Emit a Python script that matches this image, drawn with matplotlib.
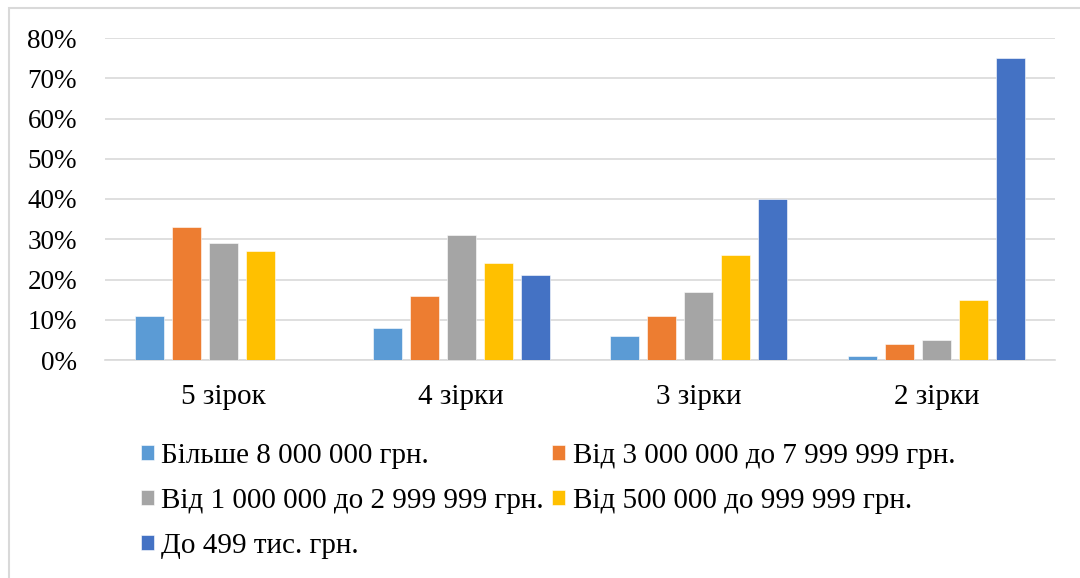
import matplotlib
matplotlib.use("Agg")
import matplotlib.pyplot as plt
import numpy as np
from matplotlib.patches import Rectangle
from matplotlib.ticker import PercentFormatter

plt.rcParams['font.family'] = ['Liberation Serif', 'DejaVu Serif']

categories = ["5 зірок", "4 зірки", "3 зірки", "2 зірки"]
series_names = [
    "Більше 8 000 000 грн.",
    "Від 3 000 000 до 7 999 999 грн.",
    "Від 1 000 000 до 2 999 999 грн.",
    "Від 500 000 до 999 999 грн.",
    "До 499 тис. грн.",
]
more_8m = [0.11, 0.08, 0.06, 0.01]
from_3m_to_8m = [0.33, 0.16, 0.11, 0.04]
from_1m_to_3m = [0.29, 0.31, 0.17, 0.05]
from_500k_to_1m = [0.27, 0.24, 0.26, 0.15]
under_499k = [np.nan, 0.21, 0.40, 0.75]
series_values = [more_8m, from_3m_to_8m, from_1m_to_3m, from_500k_to_1m, under_499k]
colors = ["#5B9BD5", "#ED7D31", "#A5A5A5", "#FFC000", "#4472C4"]
y_ticks = [0, 0.1, 0.2, 0.3, 0.4, 0.5, 0.6, 0.7, 0.8]

fig = plt.figure(figsize=(10.8, 5.78), dpi=100)
ax = fig.add_axes([105 / 1080, 1 - 360 / 578, 950 / 1080, 322 / 578])

x = np.arange(len(categories))
step = 0.156
width = 0.122
handles = []
for i, (vals, c) in enumerate(zip(series_values, colors)):
    offs = (i - 2) * step
    b = ax.bar(x + offs, vals, width=width, color=c, edgecolor="white",
               linewidth=0.4, zorder=3, label=series_names[i])
    handles.append(b)

ax.set_xlim(-0.5, len(categories) - 0.5)
ax.set_ylim(0, 0.8)
ax.set_yticks(y_ticks)
ax.yaxis.set_major_formatter(PercentFormatter(1.0, decimals=0))
ax.set_xticks(x)
ax.set_xticklabels(categories)
ax.tick_params(axis="both", length=0, colors="black")
ax.tick_params(axis="y", labelsize=19.5, pad=28 * 72 / 100)
ax.tick_params(axis="x", labelsize=21, pad=24 * 72 / 100)
ax.grid(axis="y", color="#d9d9d9", linewidth=1.2, zorder=0)
for side in ("top", "right", "left"):
    ax.spines[side].set_visible(False)
ax.spines["bottom"].set_color("#d9d9d9")
ax.spines["bottom"].set_linewidth(1.2)

# outer chart frame
fig.patches.append(Rectangle((9 / 1080, -0.1), 1.2, 1.1 - 8 / 578,
                             transform=fig.transFigure, fill=False,
                             edgecolor="#d9d9d9", linewidth=1.5))

order = [0, 2, 4, 1, 3]
leg = fig.legend([handles[i] for i in order], [series_names[i] for i in order],
                 ncol=2, loc="upper left", bbox_to_anchor=(141 / 1080, 1 - 443 / 578),
                 frameon=False, fontsize=21, handlelength=0.45, handleheight=0.45,
                 handletextpad=0.25, columnspacing=0.28, labelspacing=0.65,
                 borderaxespad=0, borderpad=0)

fig.savefig("out.png", dpi=100)
